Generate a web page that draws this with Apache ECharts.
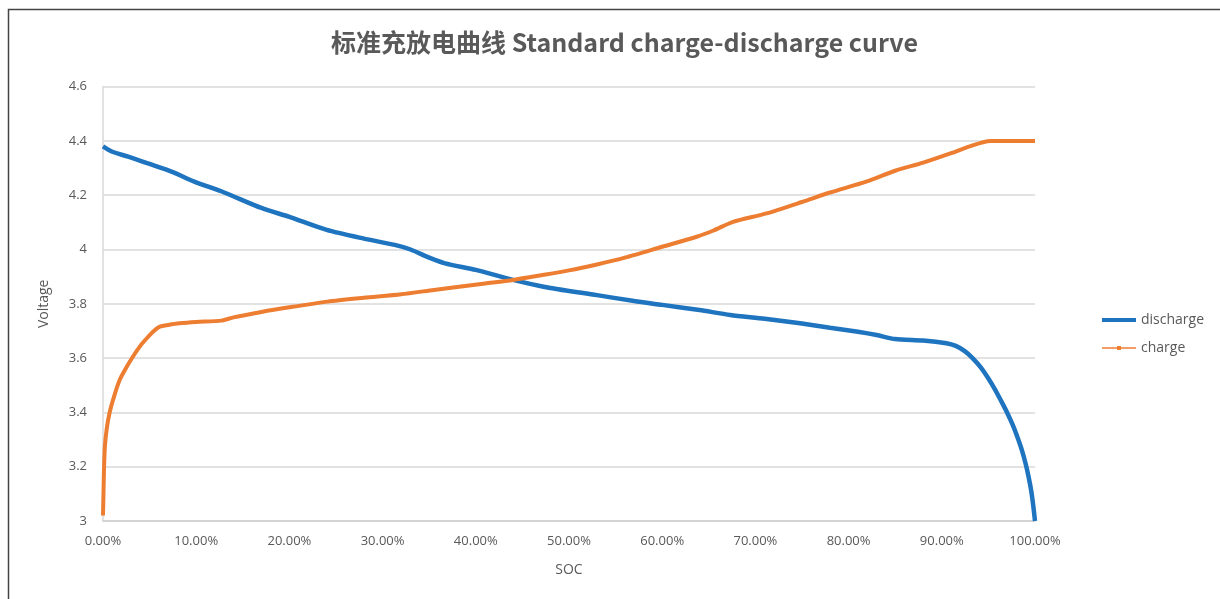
<!DOCTYPE html>
<html>
<head>
<meta charset="utf-8">
<script src="https://cdn.jsdelivr.net/npm/echarts@6/dist/echarts.min.js"></script>
<style>html,body{margin:0;padding:0;background:#fff}#c{width:1220px;height:599px}</style>
</head>
<body>
<div id="c"></div>
<script>
const titleText = '标准充放电曲线 Standard charge-discharge curve';
const xTicks = [0,10,20,30,40,50,60,70,80,90,100];
const yTicks = [3,3.2,3.4,3.6,3.8,4,4.2,4.4,4.6];
const socDischarge = [0,1,2.7,5,7.5,9.8,13,17,20,24,28,31.3,33,35,36.7,40,44,48,53,57,60,64,67.3,71,74.8,78,81,83,85,88,90.5,91.5,92.5,93.3,94.2,95,95.7,96.4,97,97.6,98.1,98.6,99,99.3,99.6,99.8,100];
const vDischarge   = [4.38,4.36,4.342,4.315,4.285,4.25,4.21,4.153,4.12,4.072,4.04,4.017,4.0,3.97,3.949,3.925,3.888,3.858,3.832,3.81,3.796,3.777,3.759,3.745,3.728,3.712,3.697,3.685,3.67,3.665,3.655,3.645,3.625,3.6,3.565,3.525,3.485,3.44,3.4,3.355,3.31,3.26,3.21,3.165,3.11,3.06,3.0];
const socCharge = [0,0.05,0.1,0.2,0.4,0.7,1.2,1.8,2.5,3.2,4,4.7,5.4,6.1,7,8.2,10,12.7,14,17,20,24.1,28,32,35.5,38,41,44,47,50,53,56,60,63.7,65.5,67.6,71.2,75,78,81.9,85,88,91,93,95.2,100];
const vCharge   = [3.02,3.1,3.18,3.274,3.34,3.398,3.46,3.52,3.565,3.605,3.645,3.673,3.698,3.716,3.722,3.728,3.733,3.738,3.75,3.77,3.787,3.808,3.822,3.835,3.851,3.862,3.875,3.888,3.905,3.923,3.945,3.97,4.01,4.047,4.07,4.102,4.133,4.175,4.21,4.25,4.29,4.32,4.355,4.38,4.40,4.40];

const chart = echarts.init(document.getElementById('c'));
const grey = '#595959';
chart.setOption({
  animation: false,
  backgroundColor: '#fff',
  graphic: [{
    type: 'rect', silent: true, z: -1,
    shape: { x: 8.5, y: 9.5, width: 1250, height: 650 },
    style: { fill: 'none', stroke: '#444', lineWidth: 1.5 }
  }],
  title: {
    text: titleText, left: 326, top: 25,
    textStyle: { color: grey, fontSize: 25, fontWeight: 'bold', fontFamily: '"Noto Sans CJK SC", "Open Sans", sans-serif' }
  },
  legend: {
    orient: 'vertical', left: 1097, top: 308, itemGap: 14, itemWidth: 34, itemHeight: 4,
    textStyle: { color: grey, fontSize: 14, fontFamily: '"Open Sans", sans-serif' },
    data: [
      { name: 'discharge', icon: 'rect' },
      { name: 'charge', icon: 'path://M0,1.2 L15,1.2 L15,0 L19,0 L19,1.2 L34,1.2 L34,2.8 L19,2.8 L19,4 L15,4 L15,2.8 L0,2.8 Z' }
    ]
  },
  grid: { left: 103, right: 185, top: 86.6, bottom: 78, containLabel: false },
  xAxis: {
    type: 'value', min: 0, max: 100, interval: 10,
    name: 'SOC', nameLocation: 'middle', nameGap: 42,
    nameTextStyle: { color: grey, fontSize: 14, fontFamily: '"Open Sans", sans-serif' },
    axisLine: { show: true, lineStyle: { color: '#d0d0d0', width: 1.5 } },
    axisTick: { show: false },
    splitLine: { show: false },
    axisLabel: { color: grey, fontSize: 13, margin: 14, fontFamily: '"Open Sans", sans-serif',
      formatter: v => v.toFixed(2) + '%' }
  },
  yAxis: {
    type: 'value', min: 3, max: 4.6, interval: 0.2,
    name: 'Voltage', nameLocation: 'middle', nameGap: 52, nameRotate: 90,
    nameTextStyle: { color: grey, fontSize: 14, fontFamily: '"Open Sans", sans-serif' },
    axisLine: { show: true, lineStyle: { color: '#d9d9d9', width: 1.5 } },
    axisTick: { show: false },
    splitLine: { show: true, lineStyle: { color: '#d9d9d9', width: 1.5 } },
    axisLabel: { color: grey, fontSize: 13, margin: 16, fontFamily: '"Open Sans", sans-serif',
      formatter: v => String(Math.round(v * 10) / 10) }
  },
  series: [
    {
      name: 'discharge', type: 'line', showSymbol: false, symbol: 'none', smooth: 0.25,
      data: socDischarge.map((s, i) => [s, vDischarge[i]]),
      lineStyle: { color: '#1f74bf', width: 4.5 }, itemStyle: { color: '#1f74bf' }
    },
    {
      name: 'charge', type: 'line', showSymbol: false, symbol: 'circle', symbolSize: 3, smooth: 0.25,
      data: socCharge.map((s, i) => [s, vCharge[i]]),
      lineStyle: { color: '#ED7D31', width: 4 }, itemStyle: { color: '#ED7D31' }
    }
  ]
});
</script>
</body>
</html>
